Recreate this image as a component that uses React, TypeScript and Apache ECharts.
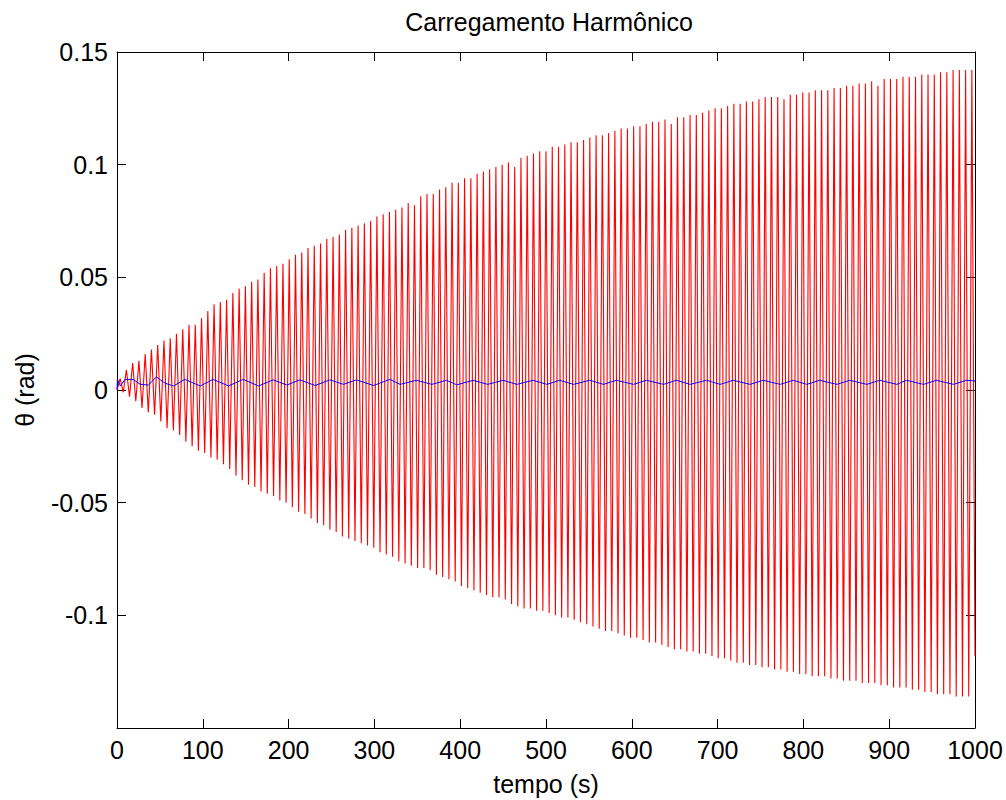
import React, { useEffect, useRef } from "react";
import * as echarts from "echarts";

// ---- Data ----
const TITLE = "Carregamento Harmônico";
const X_NAME = "tempo (s)";
const Y_NAME = "θ (rad)";

const X_MIN = 0;
const X_MAX = 1000;
const X_STEP = 100;
const Y_MIN = -0.15;
const Y_MAX = 0.15;
const Y_STEP = 0.05;

// Red response: successive positive peaks (one per cycle)
const redTop = [
  0.005, 0.009, 0.012, 0.013, 0.016, 0.018, 0.020, 0.022, 0.023, 0.025,
  0.027, 0.029, 0.029, 0.032, 0.035, 0.038, 0.039, 0.040, 0.043, 0.045,
  0.046, 0.048, 0.049, 0.052, 0.054, 0.055, 0.056, 0.058, 0.060, 0.061,
  0.063, 0.064, 0.065, 0.067, 0.068, 0.069, 0.071, 0.072, 0.073, 0.074,
  0.075, 0.077, 0.078, 0.079, 0.080, 0.081, 0.083, 0.082, 0.086, 0.087,
  0.087, 0.089, 0.090, 0.092, 0.092, 0.094, 0.094, 0.096, 0.097, 0.098,
  0.099, 0.100, 0.101, 0.099, 0.103, 0.104, 0.105, 0.106, 0.106, 0.108,
  0.108, 0.109, 0.110, 0.110, 0.111, 0.112, 0.113, 0.113, 0.114, 0.115,
  0.116, 0.116, 0.117, 0.117, 0.118, 0.119, 0.119, 0.120, 0.118, 0.121,
  0.121, 0.122, 0.122, 0.123, 0.124, 0.125, 0.125, 0.126, 0.127, 0.127,
  0.128, 0.128, 0.129, 0.130, 0.130, 0.130, 0.129, 0.131, 0.131, 0.132,
  0.132, 0.133, 0.133, 0.133, 0.134, 0.134, 0.135, 0.135, 0.136, 0.136,
  0.137, 0.135, 0.138, 0.138, 0.138, 0.139, 0.139, 0.139, 0.140, 0.140,
  0.140, 0.141, 0.141, 0.142, 0.142, 0.142, 0.142,
];

// Red response: successive negative peaks (one per cycle)
const redBottom = [
  -0.001, -0.003, -0.005, -0.008, -0.010, -0.011, -0.014, -0.017, -0.018, -0.020,
  -0.023, -0.025, -0.027, -0.028, -0.030, -0.031, -0.033, -0.035, -0.038, -0.040,
  -0.042, -0.043, -0.045, -0.046, -0.047, -0.049, -0.050, -0.052, -0.054, -0.055,
  -0.057, -0.059, -0.060, -0.062, -0.063, -0.065, -0.066, -0.067, -0.068, -0.069,
  -0.070, -0.072, -0.073, -0.074, -0.076, -0.077, -0.078, -0.079, -0.079, -0.080,
  -0.082, -0.083, -0.084, -0.085, -0.087, -0.088, -0.089, -0.090, -0.091, -0.092,
  -0.092, -0.093, -0.095, -0.096, -0.097, -0.097, -0.098, -0.098, -0.099, -0.100,
  -0.101, -0.101, -0.102, -0.103, -0.104, -0.105, -0.106, -0.107, -0.107, -0.108,
  -0.109, -0.110, -0.110, -0.111, -0.112, -0.112, -0.113, -0.114, -0.115, -0.115,
  -0.116, -0.116, -0.117, -0.117, -0.118, -0.119, -0.119, -0.120, -0.121, -0.121,
  -0.122, -0.122, -0.123, -0.123, -0.124, -0.124, -0.125, -0.125, -0.126, -0.126,
  -0.127, -0.127, -0.127, -0.128, -0.128, -0.129, -0.129, -0.129, -0.130, -0.130,
  -0.130, -0.131, -0.131, -0.132, -0.132, -0.132, -0.133, -0.133, -0.134, -0.134,
  -0.135, -0.135, -0.135, -0.136, -0.136, -0.136, -0.118,
];
const RED_START = 0;

// Blue response: time / value of its turning points
const blueT = [
  0, 0.5, 4, 9.3, 19, 27, 36.5, 46, 56, 66, 79, 97, 112, 130, 147, 165, 182, 198,
  213, 231, 248, 264, 279, 299, 318, 330, 349, 367, 384, 396, 415, 432, 450, 466,
  485, 501, 516, 532, 551, 567, 582, 602, 617, 637, 652, 668, 687, 703, 718, 738,
  753, 773, 788, 804, 819, 839, 854, 874, 889, 909, 920, 940, 955, 975, 990, 1000,
];
const blueV = [
  0.0003, 0.0047, 0.0018, 0.0047, 0.0047, 0.0025, 0.0022, 0.0058, 0.003, 0.0018,
  0.0047, 0.0018, 0.0047, 0.0018, 0.0047, 0.0018, 0.0045, 0.0022, 0.0045, 0.002,
  0.0045, 0.0025, 0.0045, 0.002, 0.0047, 0.0025, 0.0043, 0.0025, 0.0043, 0.0023,
  0.0043, 0.0025, 0.0043, 0.0025, 0.0043, 0.0025, 0.0043, 0.0025, 0.0043, 0.0025,
  0.0043, 0.0025, 0.0043, 0.0025, 0.0043, 0.0025, 0.0043, 0.0025, 0.0043, 0.0025,
  0.0043, 0.0025, 0.0043, 0.0025, 0.0043, 0.0025, 0.0043, 0.0025, 0.0043, 0.0025,
  0.0043, 0.0025, 0.0043, 0.0025, 0.0043, 0.004,
];

// ---- Chart ----
const FONT = "'Liberation Sans', Arial, Helvetica, sans-serif";
const FONT_SIZE = 25;

function buildRed(): number[][] {
  const halfCount = redTop.length + redBottom.length;
  const h = (X_MAX - X_MIN) / halfCount;
  const out: number[][] = [[X_MIN, RED_START]];
  for (let i = 0; i < redTop.length; i++) {
    out.push([X_MIN + (2 * i + 1) * h, redTop[i]]);
    out.push([X_MIN + (2 * i + 2) * h, redBottom[i]]);
  }
  return out;
}

function yLabel(v: number): string {
  if (Math.abs(v - Y_MIN) < 1e-9) return "";
  const r = Math.round(v * 100) / 100;
  return String(r === 0 ? 0 : r);
}

function xLabel(v: number): string {
  return String(Math.round(v));
}

export default function App() {
  const ref = useRef<HTMLDivElement>(null);
  useEffect(() => {
    if (!ref.current) return;
    const chart = echarts.init(ref.current, null, { renderer: "svg" });
    const axisLine = { show: true, onZero: false, lineStyle: { color: "#000", width: 1 } };
    const tick = { show: true, inside: true, length: 9, lineStyle: { color: "#000", width: 1 } };
    const textStyle = { color: "#000", fontSize: FONT_SIZE, fontFamily: FONT };
    chart.setOption({
      animation: false,
      backgroundColor: "#fff",
      title: {
        text: TITLE,
        left: 544,
        top: 4,
        textAlign: "center",
        textStyle: { ...textStyle, fontWeight: "normal" },
      },
      grid: {
        left: 117,
        right: 31,
        top: 52,
        bottom: 72,
        containLabel: false,
        outerBoundsMode: "none",
      },
      xAxis: [
        {
          type: "value",
          position: "bottom",
          min: X_MIN,
          max: X_MAX,
          interval: X_STEP,
          name: X_NAME,
          nameLocation: "middle",
          nameGap: 43,
          nameTextStyle: textStyle,
          axisLine,
          axisTick: tick,
          axisLabel: { ...textStyle, margin: 9, formatter: xLabel },
          splitLine: { show: false },
        },
        {
          type: "value",
          position: "top",
          min: X_MIN,
          max: X_MAX,
          interval: X_STEP,
          axisLine,
          axisTick: tick,
          axisLabel: { show: false },
          splitLine: { show: false },
        },
      ],
      yAxis: [
        {
          type: "value",
          position: "left",
          min: Y_MIN,
          max: Y_MAX,
          interval: Y_STEP,
          name: Y_NAME,
          nameLocation: "middle",
          nameGap: 80,
          nameTextStyle: textStyle,
          axisLine,
          axisTick: tick,
          axisLabel: { ...textStyle, margin: 9, formatter: yLabel },
          splitLine: { show: false },
        },
        {
          type: "value",
          position: "right",
          min: Y_MIN,
          max: Y_MAX,
          interval: Y_STEP,
          axisLine,
          axisTick: tick,
          axisLabel: { show: false },
          splitLine: { show: false },
        },
      ],
      series: [
        {
          type: "line",
          xAxisIndex: 0,
          yAxisIndex: 0,
          data: buildRed(),
          showSymbol: false,
          symbol: "none",
          lineStyle: { color: "#ff0000", width: 1.1 },
          silent: true,
        },
        {
          type: "line",
          xAxisIndex: 0,
          yAxisIndex: 0,
          data: blueT.map((t, i) => [t, blueV[i]]),
          showSymbol: false,
          symbol: "none",
          lineStyle: { color: "#0000ff", width: 1 },
          silent: true,
        },
      ],
    });
    return () => chart.dispose();
  }, []);
  return (
    <div
      ref={ref}
      style={{ position: "fixed", left: 0, top: 0, width: 1006, height: 800, background: "#fff" }}
    />
  );
}
